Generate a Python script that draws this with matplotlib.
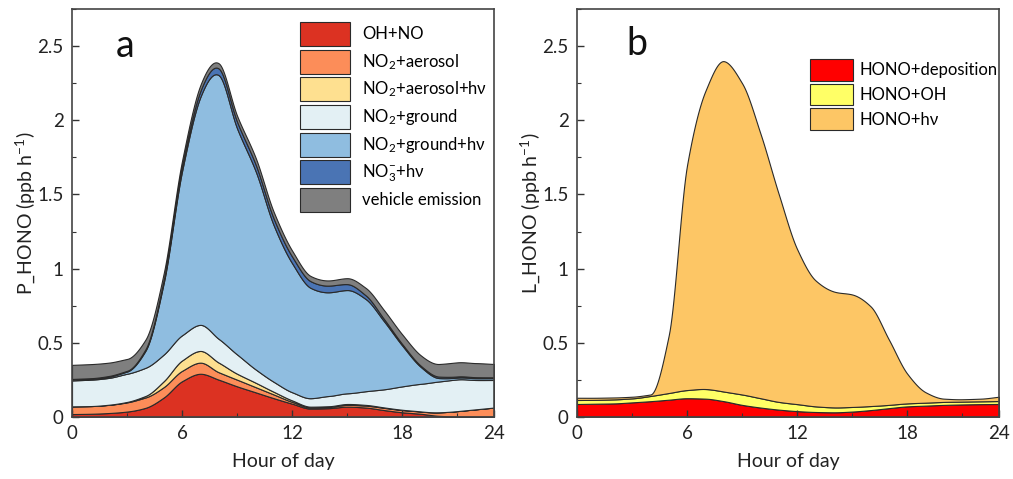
import matplotlib
matplotlib.use('Agg')
import matplotlib.pyplot as plt
from matplotlib.ticker import FixedLocator, MultipleLocator
import numpy as np

# --------------------------------------------------
# FONTS
# --------------------------------------------------
plt.rcParams['font.family'] = ['Lato', 'DejaVu Sans']
plt.rcParams['mathtext.fontset'] = 'custom'
plt.rcParams['mathtext.rm'] = 'Lato'
plt.rcParams['mathtext.default'] = 'regular'

# --------------------------------------------------
# DATA (hour 0..23, ppb/h)
# --------------------------------------------------
hours = list(range(24))

# panel a: HONO production terms
oh_no = [0.018, 0.02, 0.025, 0.035, 0.06, 0.13, 0.24, 0.29, 0.25, 0.205, 0.165, 0.125,
         0.088, 0.055, 0.058, 0.068, 0.062, 0.045, 0.03, 0.02, 0.006, 0.002, 0.002, 0.002]
no2_aer = [0.052, 0.052, 0.055, 0.062, 0.07, 0.07, 0.07, 0.075, 0.05, 0.045, 0.035, 0.025,
           0.012, 0.008, 0.008, 0.012, 0.013, 0.015, 0.015, 0.015, 0.024, 0.036, 0.048, 0.06]
no2_aer_hv = [0.0, 0.0, 0.001, 0.003, 0.01, 0.04, 0.07, 0.079, 0.065, 0.04, 0.03, 0.018,
              0.01, 0.005, 0.005, 0.006, 0.005, 0.003, 0.002, 0.001, 0.0, 0.0, 0.0, 0.0]
no2_grd = [0.175, 0.178, 0.181, 0.19, 0.19, 0.18, 0.17, 0.176, 0.16, 0.13, 0.09, 0.067,
           0.055, 0.057, 0.069, 0.072, 0.092, 0.122, 0.158, 0.186, 0.208, 0.214, 0.198, 0.186]
no2_grd_hv = [0.005, 0.005, 0.008, 0.015, 0.115, 0.485, 1.11, 1.54, 1.78, 1.525, 1.34, 1.055,
              0.87, 0.745, 0.70, 0.697, 0.623, 0.46, 0.275, 0.115, 0.023, 0.012, 0.012, 0.012]
no3_hv = [0.005, 0.005, 0.005, 0.005, 0.01, 0.02, 0.03, 0.04, 0.045, 0.045, 0.045, 0.045,
          0.045, 0.045, 0.045, 0.04, 0.025, 0.015, 0.01, 0.008, 0.01, 0.008, 0.007, 0.006]
vehicle = [0.095, 0.095, 0.09, 0.08, 0.065, 0.045, 0.04, 0.04, 0.035, 0.04, 0.045, 0.045,
           0.04, 0.035, 0.035, 0.04, 0.05, 0.06, 0.065, 0.07, 0.085, 0.095, 0.095, 0.09]

labels_a = ['OH+NO', 'NO$_2$+aerosol', 'NO$_2$+aerosol+hν', 'NO$_2$+ground',
            'NO$_2$+ground+hν', 'NO$_3^{-}$+hν', 'vehicle emission']
colors_a = ['#dc3222', '#fc8d59', '#fee090', '#e3f0f4', '#8fbde0', '#4a74b4', '#7f7f7f']

# panel b: HONO loss terms
hono_dep = [0.086, 0.088, 0.09, 0.097, 0.105, 0.115, 0.125, 0.122, 0.105, 0.08, 0.062, 0.048,
            0.038, 0.032, 0.03, 0.035, 0.045, 0.058, 0.07, 0.075, 0.08, 0.083, 0.085, 0.086]
hono_oh = [0.027, 0.026, 0.027, 0.027, 0.035, 0.045, 0.055, 0.065, 0.065, 0.07, 0.063, 0.052,
           0.047, 0.038, 0.033, 0.031, 0.027, 0.022, 0.02, 0.02, 0.02, 0.019, 0.019, 0.02]
hono_hv = [0.015, 0.014, 0.013, 0.011, 0.01, 0.39, 1.52, 2.013, 2.23, 2.10, 1.785, 1.40,
           1.045, 0.85, 0.782, 0.759, 0.673, 0.44, 0.20, 0.07, 0.022, 0.016, 0.018, 0.029]

labels_b = ['HONO+deposition', 'HONO+OH', 'HONO+hν']
colors_b = ['#ff0000', '#ffff66', '#fdc665']

xtick_pos = [0, 6, 12, 18, 23]
xtick_lab = ['0', '6', '12', '18', '24']
ytick_pos = [0, 0.5, 1, 1.5, 2, 2.5]
ytick_lab = ['0', '0.5', '1', '1.5', '2', '2.5']


# --------------------------------------------------
# SPLINE CONNECTION (like the original "spline" line style)
# --------------------------------------------------
def smooth_line(x, y, n=20):
    """Monotone cubic (PCHIP) curve through the hourly points, only for drawing."""
    x = np.asarray(x, float)
    y = np.asarray(y, float)
    h = np.diff(x)
    d = np.diff(y) / h
    m = np.zeros_like(y)
    m[0], m[-1] = d[0], d[-1]
    for k in range(1, len(y) - 1):
        if d[k - 1] * d[k] > 0:
            w1 = 2 * h[k] + h[k - 1]
            w2 = h[k] + 2 * h[k - 1]
            m[k] = (w1 + w2) / (w1 / d[k - 1] + w2 / d[k])
    xs, ys = [], []
    for k in range(len(x) - 1):
        t = np.linspace(0, 1, n, endpoint=False)
        h00 = 2 * t**3 - 3 * t**2 + 1
        h10 = t**3 - 2 * t**2 + t
        h01 = -2 * t**3 + 3 * t**2
        h11 = t**3 - t**2
        xs.append(x[k] + t * h[k])
        ys.append(h00 * y[k] + h10 * h[k] * m[k] + h01 * y[k + 1] + h11 * h[k] * m[k + 1])
    xs.append([x[-1]])
    ys.append([y[-1]])
    return np.concatenate(xs), np.clip(np.concatenate(ys), 0, None)


def smooth_stack(ax, x, layers, colors, labels):
    ys = []
    for layer in layers:
        xs, yl = smooth_line(x, layer)
        ys.append(yl)
    ax.stackplot(xs, *ys, colors=colors, labels=labels,
                 edgecolor='#2a2a2a', linewidth=0.8)


# --------------------------------------------------
# FIGURE
# --------------------------------------------------
fig = plt.figure(figsize=(10.13, 4.79), dpi=100)
ax_a = fig.add_axes([0.0711, 0.130, 0.4166, 0.8506])
ax_b = fig.add_axes([0.5696, 0.130, 0.4166, 0.8506])


def style_axis(ax, ylabel):
    ax.set_xlim(0, 23)
    ax.set_ylim(0, 2.75)
    ax.xaxis.set_major_locator(FixedLocator(xtick_pos))
    ax.set_xticklabels(xtick_lab)
    ax.xaxis.set_minor_locator(FixedLocator([3, 9, 15, 21]))
    ax.yaxis.set_major_locator(FixedLocator(ytick_pos))
    ax.set_yticklabels(ytick_lab)
    ax.yaxis.set_minor_locator(MultipleLocator(0.25))
    ax.tick_params(which='both', direction='in', top=False, right=False,
                   color='#333333', labelsize=13.5, labelcolor='#222222')
    ax.tick_params(which='major', length=5, width=1, pad=6)
    ax.tick_params(which='minor', length=3, width=0.8)
    for sp in ax.spines.values():
        sp.set_color('#444444')
        sp.set_linewidth(1.2)
    ax.set_xlabel('Hour of day', fontsize=14, color='#222222', labelpad=8)
    ax.set_ylabel(ylabel, fontsize=14, color='#222222', labelpad=0.5)


# panel a
smooth_stack(ax_a, hours,
             [oh_no, no2_aer, no2_aer_hv, no2_grd, no2_grd_hv, no3_hv, vehicle],
             colors_a, labels_a)
style_axis(ax_a, 'P_HONO (ppb h$^{-1}$)')
ax_a.text(0.126, 0.91, 'a', transform=ax_a.transAxes, fontsize=27,
          ha='center', va='center', color='#111111')
ax_a.legend(loc='upper left', bbox_to_anchor=(0.54, 0.969), frameon=False,
            fontsize=12, handlelength=3.0, handleheight=1.84, labelspacing=0.22,
            handletextpad=0.75, borderpad=0, borderaxespad=0)

# panel b
smooth_stack(ax_b, hours, [hono_dep, hono_oh, hono_hv], colors_b, labels_b)
style_axis(ax_b, 'L_HONO (ppb h$^{-1}$)')
ax_b.text(0.142, 0.915, 'b', transform=ax_b.transAxes, fontsize=27,
          ha='center', va='center', color='#111111')
ax_b.legend(loc='upper left', bbox_to_anchor=(0.552, 0.878), frameon=False,
            fontsize=12, handlelength=2.6, handleheight=1.61, labelspacing=0.19,
            handletextpad=0.35, borderpad=0, borderaxespad=0)

fig.savefig('out.png', dpi=100)
